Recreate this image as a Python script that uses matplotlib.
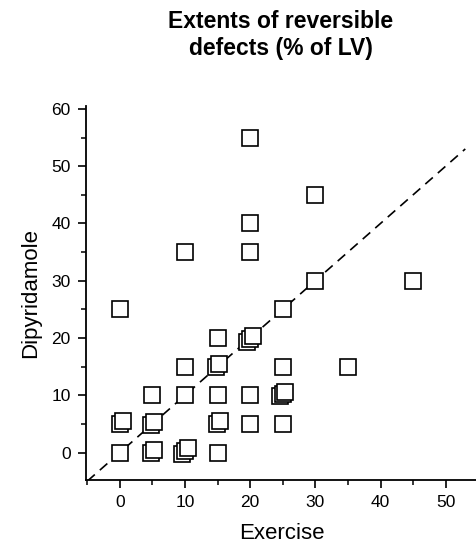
import matplotlib
matplotlib.use("Agg")
import matplotlib.pyplot as plt
from matplotlib.ticker import MultipleLocator

plt.rcParams['font.family'] = ['Liberation Sans', 'DejaVu Sans']

# Data (stacked duplicates drawn with their visible offsets)
exercise = [20, 30, 20, 10, 20, 30, 45, 0, 25,
            15, 19.5, 19.9, 20.35,
            10, 14.75, 15.15, 25, 35,
            5, 10, 15, 20, 24.6, 25.0, 25.4,
            0.05, 0.45, 4.75, 5.2, 14.85, 15.3, 20, 25,
            0, 4.85, 5.3, 9.6, 10.05, 10.5, 15]
dipyridamole = [55, 45, 40, 35, 35, 30, 30, 25, 25,
                20, 19.3, 19.8, 20.3,
                15, 15.0, 15.5, 15, 15,
                10, 10, 10, 10, 9.8, 10.2, 10.65,
                5.0, 5.5, 4.85, 5.35, 5.0, 5.5, 5, 5,
                0, -0.05, 0.45, -0.3, 0.2, 0.75, 0]
x_ticks = [0, 10, 20, 30, 40, 50]
y_ticks = [0, 10, 20, 30, 40, 50, 60]
identity = [-5, 53]

fig = plt.figure(figsize=(4.77, 5.48), dpi=100)
ax = fig.add_axes([86/477, (548-480)/548, (477-86)/477, (480-106)/548])

ax.plot(identity, identity, linestyle=(0, (6, 4)), color='black', lw=1.2, zorder=1)
for x, y in zip(exercise, dipyridamole):
    ax.plot([x], [y], marker='s', markersize=11.5, markerfacecolor='white',
            markeredgecolor='black', markeredgewidth=1.2, linestyle='none', zorder=3)

ax.set_xlim(-5.2, 54.8)
ax.set_ylim(-4.8, 60.5)
ax.set_xticks(x_ticks)
ax.set_yticks(y_ticks)
ax.xaxis.set_minor_locator(MultipleLocator(5))
ax.yaxis.set_minor_locator(MultipleLocator(5))
for s in ['top', 'right']:
    ax.spines[s].set_visible(False)
for s in ['left', 'bottom']:
    ax.spines[s].set_linewidth(1.3)
ax.tick_params(which='major', direction='out', length=6, width=1.2, labelsize=12.5, pad=5)
ax.tick_params(which='minor', direction='out', length=3.5, width=1.1)

ax.set_xlabel('Exercise', fontsize=16, labelpad=9)
ax.set_ylabel('Dipyridamole', fontsize=16, labelpad=7)

fig.text(281/477, 1 - 35/548, 'Extents of reversible\ndefects (% of LV)', ha='center', va='center',
         fontsize=16.5, fontweight='bold', linespacing=1.2)

fig.savefig('out.png', dpi=100)
